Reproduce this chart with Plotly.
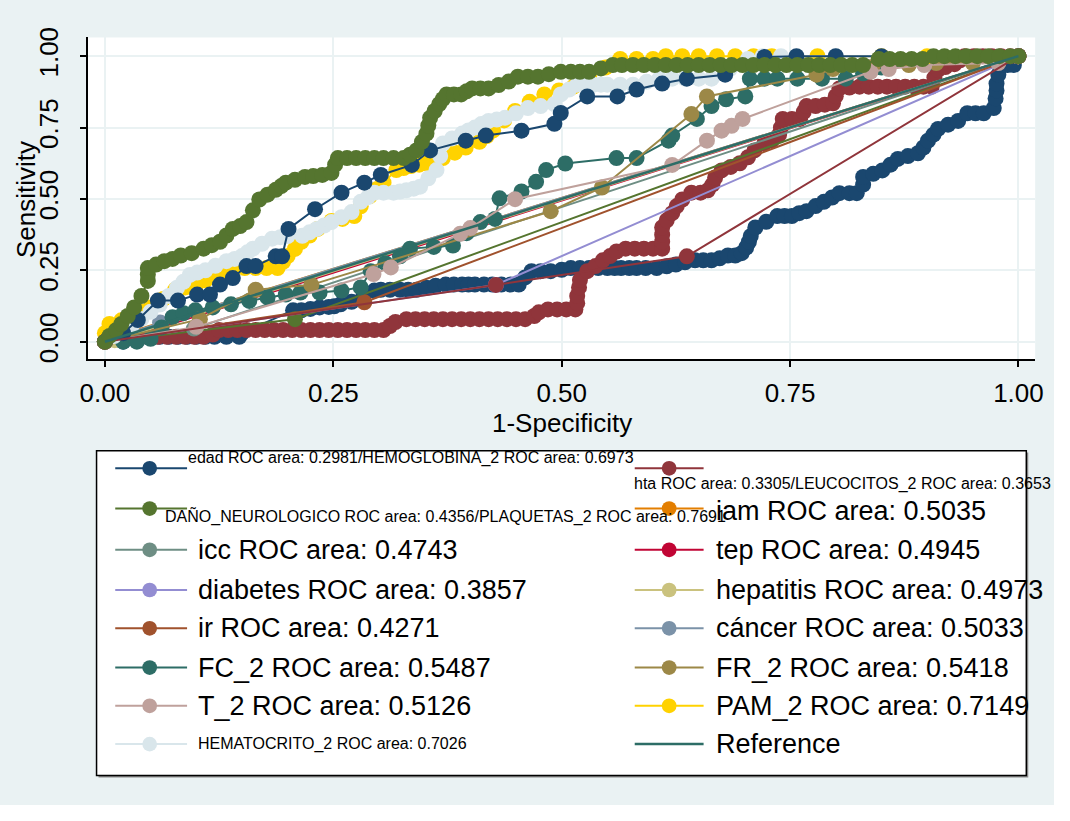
import plotly.graph_objects as go

# ---------------------------------------------------------------------------
# ROC points (1 - specificity, sensitivity) for each predictor
# ---------------------------------------------------------------------------
edad = [(0, 0), (0.02, 0), (0.034, 0.007), (0.04, 0.017), (0.05, 0.017), (0.06, 0.017),
        (0.07, 0.017), (0.08, 0.017), (0.09, 0.017), (0.10, 0.017), (0.11, 0.017),
        (0.12, 0.017), (0.133, 0.017), (0.147, 0.017), (0.15, 0.03), (0.206, 0.11),
        (0.215, 0.11), (0.225, 0.115), (0.235, 0.12), (0.245, 0.122), (0.251, 0.124),
        (0.258, 0.131), (0.27, 0.14), (0.283, 0.16), (0.295, 0.179), (0.302, 0.182),
        (0.312, 0.182), (0.323, 0.182), (0.332, 0.182), (0.341, 0.182), (0.352, 0.189),
        (0.362, 0.196), (0.373, 0.2), (0.382, 0.2), (0.391, 0.2), (0.398, 0.2), (0.405, 0.2),
        (0.415, 0.2), (0.424, 0.2), (0.434, 0.2), (0.444, 0.2), (0.453, 0.2), (0.46, 0.225),
        (0.467, 0.247), (0.477, 0.247), (0.488, 0.247), (0.5, 0.252), (0.51, 0.258),
        (0.52, 0.258), (0.53, 0.258), (0.54, 0.258), (0.55, 0.258), (0.558, 0.258),
        (0.565, 0.258), (0.574, 0.258), (0.582, 0.258), (0.592, 0.258), (0.604, 0.258),
        (0.615, 0.264), (0.625, 0.27), (0.635, 0.278), (0.646, 0.285), (0.655, 0.285),
        (0.664, 0.285), (0.673, 0.292), (0.682, 0.302), (0.69, 0.302), (0.697, 0.31),
        (0.702, 0.33), (0.705, 0.35), (0.707, 0.37), (0.712, 0.40), (0.724, 0.42),
        (0.736, 0.44), (0.744, 0.44), (0.752, 0.44), (0.76, 0.45), (0.768, 0.457),
        (0.778, 0.475), (0.787, 0.49), (0.796, 0.505), (0.804, 0.52), (0.815, 0.52),
        (0.823, 0.52), (0.83, 0.55), (0.83, 0.577), (0.841, 0.588), (0.851, 0.6),
        (0.86, 0.62), (0.868, 0.64), (0.879, 0.65), (0.89, 0.66), (0.896, 0.68),
        (0.901, 0.704), (0.907, 0.725), (0.912, 0.745), (0.923, 0.76), (0.934, 0.773),
        (0.944, 0.8), (0.953, 0.8), (0.962, 0.8), (0.973, 0.818), (0.975, 0.852),
        (0.976, 0.88), (0.976, 0.904), (0.978, 0.935), (0.98, 0.969), (0.988, 0.969),
        (0.995, 0.969), (1, 1)]

hta = [(0, 0), (0.008, 0.017), (0.018, 0.017), (0.028, 0.017), (0.038, 0.017),
       (0.048, 0.017), (0.058, 0.017), (0.068, 0.017), (0.078, 0.017), (0.088, 0.017),
       (0.098, 0.017), (0.108, 0.017), (0.118, 0.025), (0.125, 0.041), (0.135, 0.041),
       (0.145, 0.041), (0.155, 0.041), (0.165, 0.041), (0.175, 0.041), (0.185, 0.041),
       (0.195, 0.041), (0.205, 0.041), (0.215, 0.041), (0.225, 0.041), (0.235, 0.041),
       (0.245, 0.041), (0.255, 0.041), (0.265, 0.041), (0.275, 0.041), (0.285, 0.041),
       (0.295, 0.041), (0.305, 0.041), (0.312, 0.055), (0.318, 0.069), (0.33, 0.079),
       (0.34, 0.079), (0.35, 0.079), (0.36, 0.079), (0.37, 0.079), (0.38, 0.079),
       (0.39, 0.079), (0.40, 0.079), (0.41, 0.079), (0.42, 0.079), (0.43, 0.079),
       (0.44, 0.079), (0.45, 0.079), (0.46, 0.079), (0.47, 0.09), (0.475, 0.103),
       (0.485, 0.113), (0.495, 0.113), (0.505, 0.113), (0.515, 0.113), (0.517, 0.135),
       (0.517, 0.16), (0.519, 0.19), (0.52, 0.216), (0.528, 0.247), (0.537, 0.265),
       (0.545, 0.285), (0.553, 0.3), (0.56, 0.316), (0.57, 0.326), (0.58, 0.326),
       (0.59, 0.326), (0.60, 0.326), (0.61, 0.326), (0.61, 0.35), (0.61, 0.375),
       (0.61, 0.4), (0.615, 0.425), (0.621, 0.45), (0.626, 0.475), (0.632, 0.498),
       (0.642, 0.522), (0.652, 0.522), (0.66, 0.53), (0.665, 0.55), (0.668, 0.575),
       (0.675, 0.6), (0.685, 0.612), (0.695, 0.625), (0.704, 0.646), (0.711, 0.67),
       (0.722, 0.695), (0.73, 0.705), (0.738, 0.725), (0.74, 0.75), (0.742, 0.78),
       (0.752, 0.78), (0.761, 0.78), (0.765, 0.805), (0.768, 0.825), (0.778, 0.825),
       (0.788, 0.83), (0.797, 0.835), (0.8, 0.86), (0.804, 0.887), (0.815, 0.89),
       (0.826, 0.893), (0.836, 0.893), (0.846, 0.893), (0.856, 0.893), (0.866, 0.893),
       (0.876, 0.893), (0.886, 0.893), (0.896, 0.893), (0.905, 0.893), (0.908, 0.925),
       (0.912, 0.952), (0.92, 0.962), (0.93, 0.972), (0.936, 0.985), (0.941, 1.0),
       (0.951, 1.0), (0.961, 1.0), (0.971, 1.0), (0.981, 1.0), (0.991, 1.0), (1, 1)]

dano_neurologico = [(0, 0), (0.208, 0.079), (1, 1)]
iam = [(0, 0), (0.0142, 0.0212), (1, 1)]
icc = [(0, 0), (0.0974, 0.046), (1, 1)]
tep = [(0, 0), (0.0275, 0.0165), (1, 1)]
diabetes = [(0, 0), (0.428, 0.199), (1, 1)]
hepatitis = [(0, 0), (0.0108, 0.0054), (1, 1)]
ir = [(0, 0), (0.284, 0.138), (1, 1)]
cancer = [(0, 0), (0.0604, 0.067), (1, 1)]

fc_2 = [(0, 0), (0.02, 0), (0.035, 0.0), (0.05, 0.01), (0.062, 0.05), (0.074, 0.086),
        (0.086, 0.1), (0.099, 0.11), (0.118, 0.12), (0.138, 0.131), (0.158, 0.143),
        (0.178, 0.155), (0.198, 0.165), (0.214, 0.172), (0.235, 0.172), (0.259, 0.179),
        (0.28, 0.19), (0.291, 0.247), (0.307, 0.275), (0.323, 0.299), (0.334, 0.326),
        (0.36, 0.332), (0.381, 0.337), (0.396, 0.38), (0.411, 0.419), (0.427, 0.43),
        (0.432, 0.502), (0.456, 0.526), (0.472, 0.56), (0.483, 0.601), (0.504, 0.624),
        (0.56, 0.643), (0.582, 0.643), (0.617, 0.704), (0.621, 0.722), (0.648, 0.78),
        (0.664, 0.825), (0.68, 0.849), (0.701, 0.859), (0.706, 0.921), (0.722, 0.921),
        (0.736, 0.921), (0.758, 0.921), (0.785, 0.921), (0.811, 0.921), (0.83, 0.94),
        (0.85, 0.96), (0.9, 0.975), (0.95, 0.98), (1, 1)]

fr_2 = [(0, 0), (0.104, 0.079), (0.165, 0.182), (0.226, 0.199), (0.488, 0.457),
        (0.544, 0.54), (0.642, 0.797), (0.659, 0.859), (0.779, 0.935), (0.797, 0.955),
        (0.84, 0.962), (0.88, 0.969), (0.91, 0.976), (0.95, 0.976), (1, 1)]

t_2 = [(0, 0), (0.1, 0.052), (0.294, 0.237), (0.313, 0.26), (0.389, 0.378), (0.40, 0.398),
       (0.449, 0.499), (0.621, 0.619), (0.659, 0.704), (0.675, 0.739), (0.686, 0.756),
       (0.698, 0.78), (0.838, 0.945), (0.858, 0.955), (0.897, 0.969), (0.978, 0.976), (1, 1)]

pam_2 = [(0, 0), (0, 0.03), (0.005, 0.062), (0.018, 0.075), (0.03, 0.09), (0.04, 0.105),
         (0.05, 0.12), (0.064, 0.15), (0.077, 0.182), (0.088, 0.19), (0.1, 0.2),
         (0.11, 0.215), (0.12, 0.23), (0.131, 0.245), (0.142, 0.258), (0.153, 0.258),
         (0.165, 0.258), (0.177, 0.258), (0.189, 0.258), (0.195, 0.28), (0.2, 0.3),
         (0.208, 0.325), (0.215, 0.35), (0.224, 0.372), (0.233, 0.395), (0.248, 0.423),
         (0.26, 0.43), (0.273, 0.44), (0.28, 0.474), (0.29, 0.51), (0.298, 0.535),
         (0.305, 0.557), (0.319, 0.601), (0.327, 0.608), (0.335, 0.615), (0.344, 0.62),
         (0.352, 0.625), (0.361, 0.634), (0.37, 0.643), (0.383, 0.662), (0.395, 0.68),
         (0.41, 0.7), (0.418, 0.72), (0.425, 0.74), (0.437, 0.775), (0.449, 0.808),
         (0.465, 0.84), (0.481, 0.866), (0.497, 0.88), (0.513, 0.893), (0.53, 0.93),
         (0.548, 0.96), (0.564, 0.99), (0.582, 0.99), (0.6, 0.99), (0.614, 1.0),
         (0.632, 1.0), (0.65, 1.0), (0.67, 1.0), (0.69, 1.0), (0.71, 1.0), (0.73, 1.0),
         (0.78, 1.0), (0.85, 1.0), (0.9, 1.0), (1, 1)]

hematocrito_2 = [(0, 0), (0.01, 0.02), (0.02, 0.04), (0.03, 0.06), (0.04, 0.08),
                 (0.05, 0.105), (0.06, 0.13), (0.07, 0.16), (0.079, 0.189), (0.086, 0.21),
                 (0.093, 0.234), (0.101, 0.242), (0.11, 0.25), (0.121, 0.266), (0.133, 0.282),
                 (0.142, 0.29), (0.15, 0.3), (0.156, 0.313), (0.162, 0.326), (0.172, 0.343),
                 (0.183, 0.361), (0.192, 0.366), (0.2, 0.37), (0.216, 0.371), (0.224, 0.383),
                 (0.232, 0.395), (0.24, 0.407), (0.248, 0.419), (0.259, 0.436), (0.27, 0.454),
                 (0.28, 0.49), (0.288, 0.506), (0.295, 0.522), (0.305, 0.522), (0.316, 0.522),
                 (0.323, 0.526), (0.33, 0.53), (0.338, 0.536), (0.345, 0.543), (0.354, 0.572),
                 (0.363, 0.601), (0.367, 0.65), (0.37, 0.694), (0.38, 0.712), (0.391, 0.729),
                 (0.398, 0.74), (0.405, 0.75), (0.412, 0.762), (0.42, 0.773), (0.429, 0.778),
                 (0.438, 0.784), (0.45, 0.8), (0.463, 0.818), (0.477, 0.825), (0.492, 0.832),
                 (0.499, 0.866), (0.508, 0.883), (0.517, 0.9), (0.526, 0.9), (0.535, 0.9),
                 (0.543, 0.9), (0.55, 0.9), (0.564, 0.9), (0.578, 0.9), (0.593, 0.91),
                 (0.607, 0.921), (0.621, 0.921), (0.635, 0.921), (0.65, 0.921), (0.664, 0.921),
                 (0.684, 0.955), (0.704, 0.99), (0.72, 1.0), (0.74, 1.0), (0.8, 1.0), (1, 1)]

hemoglobina_2 = [(0, 0), (0.02, 0.03), (0.036, 0.076), (0.058, 0.144), (0.08, 0.144),
                 (0.101, 0.165), (0.115, 0.165), (0.126, 0.2), (0.14, 0.223), (0.155, 0.265),
                 (0.165, 0.265), (0.187, 0.299), (0.194, 0.299), (0.201, 0.395), (0.23, 0.464),
                 (0.259, 0.522), (0.284, 0.557), (0.302, 0.584), (0.336, 0.619), (0.356, 0.67),
                 (0.395, 0.704), (0.417, 0.722), (0.456, 0.739), (0.492, 0.763), (0.499, 0.801),
                 (0.528, 0.859), (0.561, 0.859), (0.582, 0.883), (0.61, 0.904), (0.637, 0.921),
                 (0.679, 0.935), (0.722, 0.997), (0.757, 1.0), (0.8, 1.0), (0.85, 1.0), (1, 1)]

leucocitos_2 = [(0, 0), (0.428, 0.199), (0.637, 0.299), (1, 1)]

plaquetas_2 = [(0, 0), (0.005, 0.02), (0.012, 0.04), (0.018, 0.062), (0.025, 0.09),
               (0.032, 0.12), (0.04, 0.16), (0.047, 0.213), (0.047, 0.235), (0.047, 0.258),
               (0.056, 0.27), (0.065, 0.282), (0.074, 0.29), (0.083, 0.302), (0.095, 0.31),
               (0.108, 0.326), (0.117, 0.338), (0.126, 0.35), (0.133, 0.372), (0.14, 0.395),
               (0.148, 0.405), (0.155, 0.419), (0.162, 0.46), (0.169, 0.498), (0.178, 0.515),
               (0.187, 0.532), (0.193, 0.545), (0.198, 0.557), (0.208, 0.567), (0.219, 0.577),
               (0.228, 0.58), (0.238, 0.584), (0.248, 0.591), (0.252, 0.62), (0.255, 0.643),
               (0.265, 0.643), (0.275, 0.643), (0.285, 0.643), (0.295, 0.643), (0.305, 0.643),
               (0.316, 0.643), (0.327, 0.643), (0.334, 0.655), (0.341, 0.67), (0.347, 0.7),
               (0.352, 0.729), (0.354, 0.757), (0.356, 0.784), (0.361, 0.808), (0.366, 0.832),
               (0.37, 0.85), (0.374, 0.866), (0.382, 0.866), (0.39, 0.866), (0.396, 0.877),
               (0.402, 0.887), (0.411, 0.887), (0.42, 0.887), (0.431, 0.899), (0.442, 0.911),
               (0.452, 0.928), (0.463, 0.928), (0.474, 0.928), (0.486, 0.937), (0.499, 0.945),
               (0.51, 0.945), (0.52, 0.945), (0.53, 0.945), (0.543, 0.957), (0.556, 0.969),
               (0.566, 0.969), (0.578, 0.969), (0.59, 0.969), (0.602, 0.969), (0.614, 0.969),
               (0.626, 0.969), (0.638, 0.969), (0.65, 0.969), (0.662, 0.969), (0.674, 0.969),
               (0.686, 0.969), (0.698, 0.969), (0.71, 0.969), (0.722, 0.969), (0.734, 0.969),
               (0.746, 0.969), (0.758, 0.969), (0.77, 0.969), (0.782, 0.969), (0.794, 0.969),
               (0.806, 0.969), (0.818, 0.969), (0.83, 0.969), (0.847, 0.99), (0.859, 0.99),
               (0.871, 0.99), (0.883, 0.99), (0.895, 0.99), (0.907, 1.0), (0.919, 1.0),
               (0.931, 1.0), (0.943, 1.0), (0.955, 1.0), (0.967, 1.0), (0.979, 1.0),
               (0.991, 1.0), (1, 1)]

reference = [(0, 0), (1, 1)]

# Stata s2color palette, in plotting order
series = [
    ("edad", edad, "#1a476f"),
    ("hta", hta, "#90353b"),
    ("DAÑO_NEUROLOGICO", dano_neurologico, "#55752f"),
    ("iam", iam, "#e37e00"),
    ("icc", icc, "#6e8e84"),
    ("tep", tep, "#c10534"),
    ("diabetes", diabetes, "#938dd2"),
    ("hepatitis", hepatitis, "#cac27e"),
    ("ir", ir, "#a0522d"),
    ("cáncer", cancer, "#7b92a8"),
    ("FC_2", fc_2, "#2d6d66"),
    ("FR_2", fr_2, "#9c8847"),
    ("T_2", t_2, "#bfa19c"),
    ("PAM_2", pam_2, "#ffd200"),
    ("HEMATOCRITO_2", hematocrito_2, "#d9e6eb"),
    ("HEMOGLOBINA_2", hemoglobina_2, "#1a476f"),
    ("LEUCOCITOS_2", leucocitos_2, "#90353b"),
    ("PLAQUETAS_2", plaquetas_2, "#55752f"),
]
REF_COLOR = "#2d6d66"

# legend entries: (label, font size, key colour), filled row by row in two columns
legend_items = [
    ("edad ROC area: 0.2981/HEMOGLOBINA_2 ROC area: 0.6973", 16, "#1a476f"),
    ("hta ROC area: 0.3305/LEUCOCITOS_2 ROC area: 0.3653", 16, "#90353b"),
    ("DAÑO_NEUROLOGICO ROC area: 0.4356/PLAQUETAS_2 ROC area: 0.7691", 16, "#55752f"),
    ("iam ROC area: 0.5035", 27, "#e37e00"),
    ("icc ROC area: 0.4743", 27, "#6e8e84"),
    ("tep ROC area: 0.4945", 27, "#c10534"),
    ("diabetes ROC area: 0.3857", 27, "#938dd2"),
    ("hepatitis ROC area: 0.4973", 27, "#cac27e"),
    ("ir ROC area: 0.4271", 27, "#a0522d"),
    ("cáncer ROC area: 0.5033", 27, "#7b92a8"),
    ("FC_2 ROC area: 0.5487", 27, "#2d6d66"),
    ("FR_2 ROC area: 0.5418", 27, "#9c8847"),
    ("T_2 ROC area: 0.5126", 27, "#bfa19c"),
    ("PAM_2 ROC area: 0.7149", 27, "#ffd200"),
    ("HEMATOCRITO_2 ROC area: 0.7026", 16, "#d9e6eb"),
    ("Reference", 27, REF_COLOR),
]

# The page's default 8px body margin forms the white frame; the figure fills the rest
# of the 1070x821 window.  Layout positions below are given in page pixels.
PAGE_W, PAGE_H, OFF = 1070, 821, 8
W, H = PAGE_W - 2 * OFF, PAGE_H - 2 * OFF
FONT = "Liberation Sans, Arial, Helvetica, sans-serif"


def px(x):
    """page pixel column -> paper fraction"""
    return (x - OFF) / W


def py(y):
    """page pixel row -> paper fraction"""
    return 1 - (y - OFF) / H


fig = go.Figure()

for name, pts, color in series:
    fig.add_trace(go.Scatter(
        x=[p[0] for p in pts], y=[p[1] for p in pts], mode="lines+markers", name=name,
        line=dict(color=color, width=2),
        marker=dict(color=color, size=16, line=dict(width=0)),
        showlegend=False, hoverinfo="skip"))

fig.add_trace(go.Scatter(
    x=[p[0] for p in reference], y=[p[1] for p in reference], mode="lines",
    name="Reference", line=dict(color=REF_COLOR, width=2.5),
    showlegend=False, hoverinfo="skip"))

# plot-area geometry in page pixels
PL, PR, PT, PB = 89, 1052, 35, 363
X0, X1 = 106.5, 1035.0   # pixel positions of 0 and 1 on x
Y0, Y1 = 345.0, 54.0     # pixel positions of 0 and 1 on y
xr = [(PL - X0) / (X1 - X0), (PR - X0) / (X1 - X0)]
yr = [(Y0 - PB) / (Y0 - Y1), (Y0 - PT) / (Y0 - Y1)]

ticks = [0, 0.25, 0.5, 0.75, 1]
tick_text = ["0.00", "0.25", "0.50", "0.75", "1.00"]

axis_common = dict(
    tickvals=ticks, ticktext=tick_text, showgrid=True, gridcolor="#eaf2f3",
    gridwidth=2, zeroline=False, showline=True, linecolor="black", linewidth=1.5,
    ticks="outside", ticklen=6, tickwidth=1.5, tickcolor="black",
    ticklabeloverflow="allow",
    tickfont=dict(family=FONT, size=26, color="black"), fixedrange=True)

fig.update_layout(
    width=W, height=H,
    margin=dict(l=0, r=0, t=0, b=0),
    paper_bgcolor="#eaf2f3", plot_bgcolor="white",
    showlegend=False,
    xaxis=dict(domain=[px(PL), px(PR)], range=xr, ticklabelstandoff=4, **axis_common),
    yaxis=dict(domain=[py(PB), py(PT)], range=yr, tickangle=-90,
               ticklabelstandoff=12, **axis_common),
)

shapes = [
    # legend box shadow and box
    dict(type="rect", xref="paper", yref="paper", x0=px(100), x1=px(1045),
         y0=py(789), y1=py(458), fillcolor="#8a8a8a", line=dict(width=0)),
    dict(type="rect", xref="paper", yref="paper", x0=px(98), x1=px(1043),
         y0=py(787), y1=py(456), fillcolor="white", line=dict(color="black", width=1.5)),
]

annotations = []
row_y = [474, 515, 557, 598, 637, 677, 716, 755]
for i, (label, fsize, color) in enumerate(legend_items):
    col, row = i % 2, i // 2
    ky = row_y[row]
    if col == 0:
        lx0, lx1, mx, tx = 117, 190, 152, 200
    else:
        lx0, lx1, mx, tx = 645, 715, 680, 727
    is_ref = label == "Reference"
    shapes.append(dict(type="line", xref="paper", yref="paper",
                       x0=px(lx0), x1=px(lx1), y0=py(ky), y1=py(ky),
                       line=dict(color=color, width=2.5 if is_ref else 2)))
    if not is_ref:
        r = 7.5
        shapes.append(dict(type="circle", xref="paper", yref="paper",
                           x0=px(mx - r), x1=px(mx + r), y0=py(ky + r), y1=py(ky - r),
                           fillcolor=color, line=dict(width=0)))
    ty = ky
    if i == 0:
        tx, ty = 190, 463
    elif i == 1:
        tx, ty = 643, 490
    elif i == 2:
        tx, ty = 167, 523
    elif i == 3:
        ty = 518
    annotations.append(dict(
        x=px(tx), y=py(ty), xref="paper", yref="paper", text=label,
        showarrow=False, xanchor="left", yanchor="middle", borderpad=0,
        font=dict(family=FONT, size=fsize, color="black")))

# axis titles
annotations.append(dict(x=px(571), y=py(428), xref="paper", yref="paper",
                        text="1-Specificity", showarrow=False, xanchor="center",
                        yanchor="middle", font=dict(family=FONT, size=26, color="black")))
annotations.append(dict(x=px(27), y=py(200), xref="paper", yref="paper",
                        text="Sensitivity", showarrow=False, textangle=-90,
                        xanchor="center", yanchor="middle",
                        font=dict(family=FONT, size=26, color="black")))

fig.update_layout(shapes=shapes, annotations=annotations)

fig.write_html("out.html")
